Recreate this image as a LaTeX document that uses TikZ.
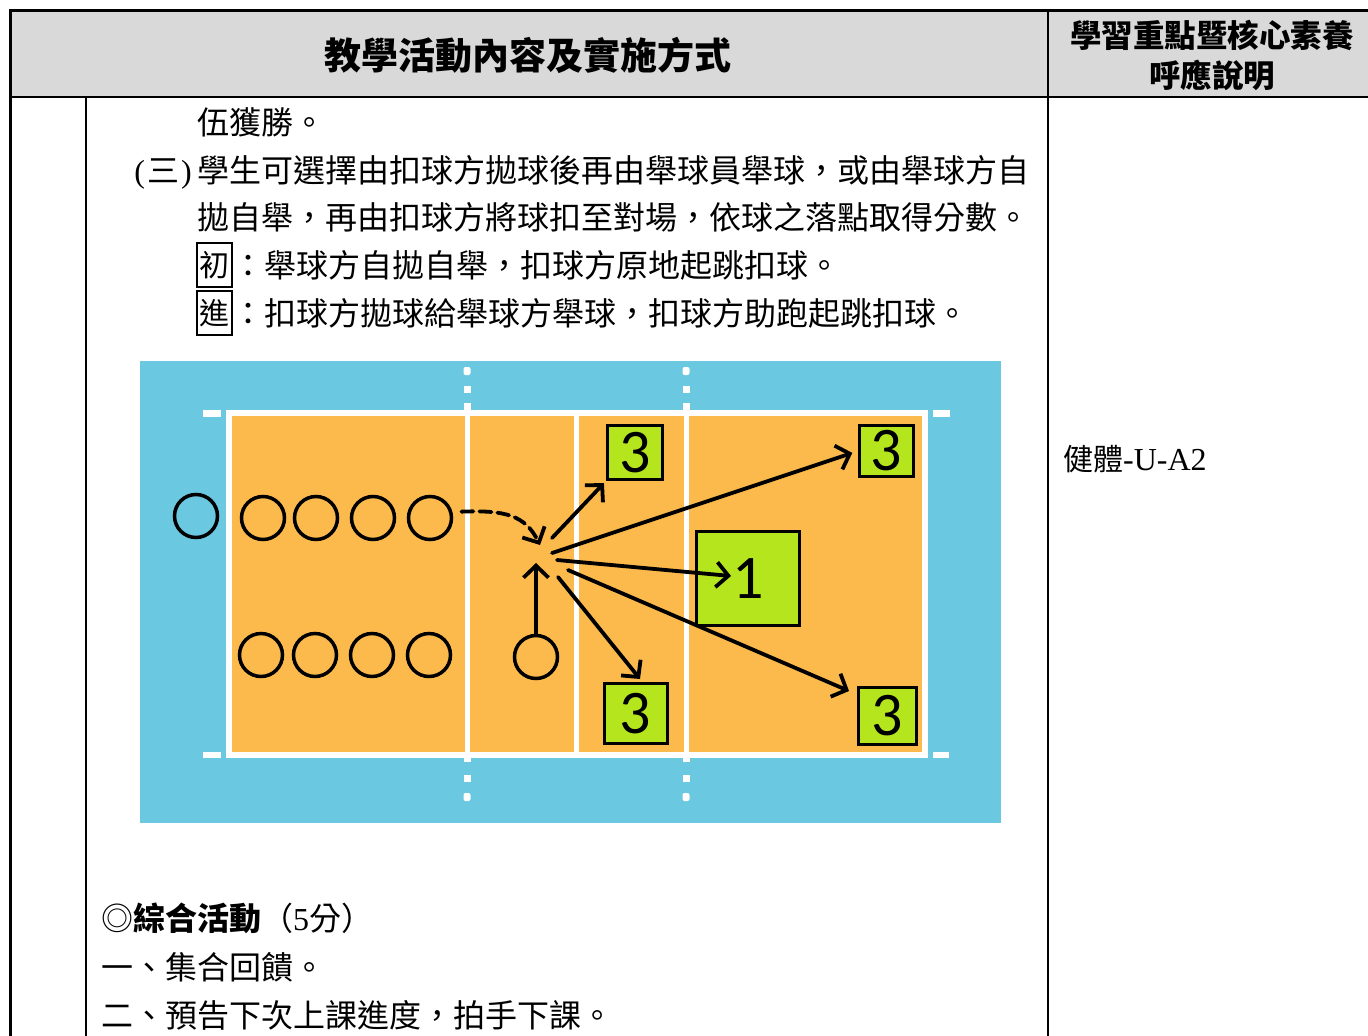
\documentclass[tikz,border=0pt]{standalone}
\usepackage{fontspec}
\setmainfont{Liberation Serif}
\newfontfamily\cjk{Noto Sans CJK TC}
\newfontfamily\digitfont{Carlito}
\usetikzlibrary{arrows.meta}
\definecolor{hdrgray}{RGB}{217,217,217}
\definecolor{courtblue}{RGB}{106,200,224}
\definecolor{courtorange}{RGB}{253,186,76}
\definecolor{courtgreen}{RGB}{181,230,29}
\begin{document}
\begin{tikzpicture}[x=1pt,y=-1pt,
  cjkbody/.style={anchor=west, inner sep=0pt, font=\cjk\fontsize{32}{32}\selectfont, text height=28pt, text depth=4pt},
  boxchar/.style={draw, line width=1.3pt, inner sep=0pt, minimum width=35pt, minimum height=44pt, font=\cjk\fontsize{30}{30}\selectfont, text height=26pt, text depth=4pt},
  player/.style={circle, draw=black, line width=3.5pt, minimum size=43pt, inner sep=0pt},
  zone/.style={draw=black, line width=3pt, fill=courtgreen, inner sep=0pt, font=\digitfont\fontsize{62}{62}\selectfont},
  hitarrow/.style={line width=3.8pt, line cap=round, -{Straight Barb[length=12pt,width=25pt,line width=3.8pt]}},
  courtline/.style={white, line width=6pt}
]
\useasboundingbox (0,0) rectangle (1368,1036);
% ---------- table ----------
\fill[hdrgray] (10,10) rectangle (1368,97);
\draw[line width=3pt] (1368,10) -- (10,10) -- (10,1036);
\draw[line width=2pt] (10,97) -- (1368,97);
\draw[line width=2pt] (1048,10) -- (1048,1036);
\draw[line width=1.5pt] (86,97) -- (86,1036);
\node[inner sep=0pt, font=\cjk\bfseries\fontsize{37}{37}\selectfont] (h1) at (528,55) {教學活動內容及實施方式};
\node[inner sep=0pt, font=\cjk\bfseries\fontsize{31.5}{31.5}\selectfont] (h2) at (1212,35) {學習重點暨核心素養};
\node[inner sep=0pt, font=\cjk\bfseries\fontsize{31.5}{31.5}\selectfont] (h3) at (1212,75) {呼應說明};
% ---------- body text ----------
\node[cjkbody] (l1) at (197,122) {伍獲勝。};
\node[anchor=base, inner sep=0pt, font=\fontsize{32}{32}\selectfont] (l2a) at (163,182) {(\hspace{2pt}{\cjk 三}\hspace{2pt})};
\node[cjkbody] (l2b) at (197,170) {學生可選擇由扣球方拋球後再由舉球員舉球，或由舉球方自};
\node[cjkbody] (l3) at (197,217) {拋自舉，再由扣球方將球扣至對場，依球之落點取得分數。};
\node[boxchar] (k1) at (214.5,265) {初};
\node[cjkbody] (l4) at (232,265) {：舉球方自拋自舉，扣球方原地起跳扣球。};
\node[boxchar] (k2) at (214.5,313) {進};
\node[cjkbody] (l5) at (232,313) {：扣球方拋球給舉球方舉球，扣球方助跑起跳扣球。};
\node[cjkbody] (s1) at (101,918) {◎{\bfseries 綜合活動}（{\rmfamily 5}分）};
\node[cjkbody] (s2) at (101,967) {一、集合回饋。};
\node[cjkbody] (s3) at (101,1015) {二、預告下次上課進度，拍手下課。};
\node[anchor=base west, inner sep=0pt, font=\fontsize{32}{32}\selectfont] (r1) at (1063,470) {{\cjk\fontsize{30}{30}\selectfont 健體}-U-A2};
% ---------- court ----------
\fill[courtblue] (140,361) rectangle (1001,823);
\fill[courtorange] (229,413) rectangle (925,755);
\draw[courtline] (229,413) rectangle (925,755);
\foreach \x in {467,576,686} \draw[white, line width=5pt] (\x,413) -- (\x,755);
\fill[white] (203,410) rectangle (221,417);
\fill[white] (933,410) rectangle (950,417);
\fill[white] (203,752) rectangle (221,758);
\fill[white] (933,752) rectangle (949,758);
\foreach \x in {467,686} {
  \fill[white, rounded corners=2pt] ({\x-3.5},367) rectangle ({\x+3.5},375);
  \fill[white] ({\x-3.5},386) rectangle ({\x+3.5},393);
  \fill[white] ({\x-3.5},403) rectangle ({\x+3.5},410);
  \fill[white] ({\x-3.5},757) rectangle ({\x+3.5},762);
  \fill[white] ({\x-3.5},775) rectangle ({\x+3.5},782);
  \fill[white, rounded corners=2pt] ({\x-3.5},793) rectangle ({\x+3.5},801);
}
% players
\node[player] (p1) at (196,516) {};
\node[player] (p2) at (263,518) {};
\node[player] (p3) at (316,518) {};
\node[player] (p4) at (373,518) {};
\node[player] (p5) at (430,518) {};
\node[player] (p6) at (261,655) {};
\node[player] (p7) at (315,655) {};
\node[player] (p8) at (372,655) {};
\node[player] (p9) at (429,655) {};
\node[player] (p10) at (536,657) {};
% target zones
\node[zone, minimum width=55pt, minimum height=54pt] (b1) at (635,452.5) {3};
\node[zone, minimum width=54pt, minimum height=51pt] (b2) at (886.5,451) {3};
\node[zone, minimum width=103pt, minimum height=94pt] (one) at (748,578.5) {1};
\node[zone, minimum width=63pt, minimum height=60pt] (b3) at (635.5,713.5) {3};
\node[zone, minimum width=58pt, minimum height=57pt] (b4) at (887.5,716) {3};
% arrows
\coordinate (dashend) at (540,545);
\coordinate (upend) at (536,563);
\coordinate (s1a) at (552,538);
\coordinate (s2a) at (552,553);
\coordinate (s3a) at (557,560);
\coordinate (s4a) at (558,577);
\coordinate (s5a) at (568,570);
\coordinate (e3) at (731,576);
\coordinate (e4) at (640,679);
\coordinate (e5) at (849,691);
\draw[hitarrow, dash pattern=on 12pt off 6pt, shorten <=9pt] (p5.15) .. controls (505,510) and (525,515) .. (dashend);
\draw[hitarrow] (p10.north) -- (upend);
\draw[hitarrow, shorten >=3pt] (s1a) -- (b1.south west);
\draw[hitarrow, shorten >=6pt] (s2a) -- (b2.west);
\draw[hitarrow] (s3a) -- (e3);
\draw[hitarrow] (s4a) -- (e4);
\draw[hitarrow] (s5a) -- (e5);
\end{tikzpicture}
\end{document}
